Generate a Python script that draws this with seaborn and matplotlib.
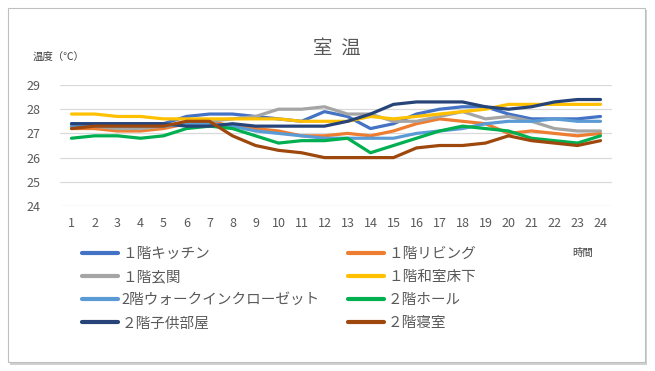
import numpy as np
import pandas as pd
import matplotlib
matplotlib.use("Agg")
import matplotlib.pyplot as plt
from matplotlib.patches import Rectangle
import seaborn as sns

hours = list(range(1, 25))

series_names = ["１階キッチン", "１階リビング", "１階玄関", "１階和室床下",
                "2階ウォークインクローゼット", "２階ホール", "２階子供部屋", "２階寝室"]

kitchen  = [27.4, 27.4, 27.4, 27.4, 27.4, 27.7, 27.8, 27.8, 27.7, 27.6, 27.5, 27.9,
            27.7, 27.2, 27.4, 27.8, 28.0, 28.1, 28.1, 27.8, 27.6, 27.6, 27.6, 27.7]
living   = [27.2, 27.2, 27.1, 27.1, 27.2, 27.4, 27.5, 27.3, 27.2, 27.1, 26.9, 26.9,
            27.0, 26.9, 27.1, 27.4, 27.6, 27.5, 27.4, 27.0, 27.1, 27.0, 26.9, 27.0]
entrance = [27.3, 27.3, 27.2, 27.2, 27.3, 27.4, 27.5, 27.6, 27.7, 28.0, 28.0, 28.1,
            27.8, 27.8, 27.5, 27.5, 27.7, 27.9, 27.6, 27.7, 27.5, 27.2, 27.1, 27.1]
washitsu = [27.8, 27.8, 27.7, 27.7, 27.6, 27.6, 27.6, 27.6, 27.6, 27.6, 27.5, 27.5,
            27.5, 27.7, 27.6, 27.7, 27.8, 27.9, 28.0, 28.2, 28.2, 28.2, 28.2, 28.2]
walkin   = [27.3, 27.3, 27.3, 27.3, 27.3, 27.4, 27.4, 27.3, 27.1, 27.0, 26.9, 26.8,
            26.8, 26.8, 26.8, 27.0, 27.1, 27.2, 27.4, 27.5, 27.5, 27.6, 27.5, 27.5]
hall     = [26.8, 26.9, 26.9, 26.8, 26.9, 27.2, 27.3, 27.2, 26.9, 26.6, 26.7, 26.7,
            26.8, 26.2, 26.5, 26.8, 27.1, 27.3, 27.2, 27.1, 26.8, 26.7, 26.6, 26.9]
child    = [27.4, 27.4, 27.4, 27.4, 27.4, 27.3, 27.3, 27.4, 27.3, 27.3, 27.3, 27.3,
            27.5, 27.8, 28.2, 28.3, 28.3, 28.3, 28.1, 28.0, 28.1, 28.3, 28.4, 28.4]
bedroom  = [27.2, 27.3, 27.3, 27.3, 27.3, 27.5, 27.5, 26.9, 26.5, 26.3, 26.2, 26.0,
            26.0, 26.0, 26.0, 26.4, 26.5, 26.5, 26.6, 26.9, 26.7, 26.6, 26.5, 26.7]

y_ticks = [24, 25, 26, 27, 28, 29]

all_values = [kitchen, living, entrance, washitsu, walkin, hall, child, bedroom]
colors = ["#4472C4", "#ED7D31", "#A5A5A5", "#FFC000",
          "#5B9BD5", "#00B050", "#264478", "#9E480E"]

rows = []
for name, vals in zip(series_names, all_values):
    for h, v in zip(hours, vals):
        rows.append({"時間": h, "温度": v, "系列": name})
df = pd.DataFrame(rows)

sns.set_theme(style="white")
jp = ["Noto Sans CJK JP", "DejaVu Sans"]
plt.rcParams["font.family"] = jp

fig = plt.figure(figsize=(6.55, 3.71), dpi=100)
fig.patch.set_facecolor("white")

# outer frame with shadow
fig.patches.append(Rectangle((10/655, 1 - 365/371), 637/655, 355/371,
                             transform=fig.transFigure, facecolor="#D0D0D0",
                             edgecolor="none", zorder=-3))
fig.patches.append(Rectangle((8/655, 1 - 362/371), 637/655, 354/371,
                             transform=fig.transFigure, facecolor="white",
                             edgecolor="#BFBFBF", linewidth=0.8, zorder=-2))

ax = fig.add_axes([60/655, (371 - 206)/371, (612 - 60)/655, (206 - 85)/371])
ax.set_facecolor("none")
pal = dict(zip(series_names, colors))
sns.lineplot(data=df, x="時間", y="温度", hue="系列", hue_order=series_names,
             palette=pal, linewidth=2.3, legend=False, sort=False, ax=ax,
             estimator=None)

ax.set_xlim(0.5, 24.5)
ax.set_ylim(24, 29)
ax.set_xticks(hours)
ax.set_xticklabels([str(h) for h in hours])
ax.set_yticks(y_ticks)
ax.set_yticklabels([str(t) for t in y_ticks])
ax.grid(axis="y", color="#D9D9D9", linewidth=0.9)
ax.set_axisbelow(True)
for s in ax.spines.values():
    s.set_visible(False)
ax.tick_params(axis="both", length=0, labelsize=9, colors="#595959")
ax.tick_params(axis="x", pad=8)
ax.tick_params(axis="y", pad=14)
ax.set_xlabel("")
ax.set_ylabel("")

fig.text(337/655, 1 - 48/371, "室  温", ha="center", va="center",
         fontsize=14, color="#595959", family=jp)
fig.text(33/655, 1 - 57/371, "温度（℃）", ha="left", va="center",
         fontsize=7.5, color="#404040", family=jp)
fig.text(583/655, 1 - 253/371, "時間", ha="center", va="center",
         fontsize=7.5, color="#404040", family=jp)

lines = ax.get_lines()[:len(series_names)]
left_idx = [0, 2, 4, 6]
right_idx = [1, 3, 5, 7]
for idx, x0 in ((left_idx, 76/655), (right_idx, 342/655)):
    leg = fig.legend([lines[i] for i in idx], [series_names[i] for i in idx],
                     loc="upper left", bbox_to_anchor=(x0, 1 - 241/371),
                     frameon=False, handlelength=2.5,
                     handletextpad=0.25, labelspacing=0.63, borderaxespad=0,
                     prop={"family": jp, "size": 10.5})
    for t in leg.get_texts():
        t.set_color("#595959")
    for l in leg.get_lines():
        l.set_linewidth(3)

fig.savefig("out.png", dpi=100, facecolor="white")
